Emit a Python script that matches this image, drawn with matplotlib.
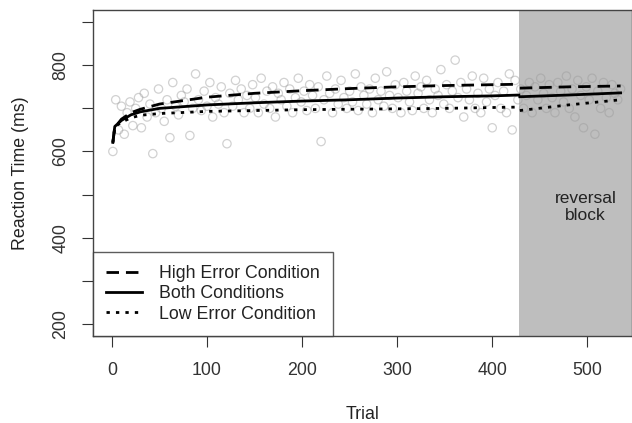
import matplotlib
matplotlib.use("Agg")
import matplotlib.pyplot as plt

plt.rcParams['font.family'] = ['Liberation Sans', 'DejaVu Sans']

trials = list(range(1, 536, 3))
rt_points = [
    600, 720, 650, 705, 640, 690, 715, 660, 700, 725,
    655, 735, 680, 710, 595, 690, 745, 700, 670, 720,
    632, 760, 705, 685, 730, 715, 745, 637, 700, 780,
    720, 695, 740, 705, 760, 680, 725, 710, 750, 690,
    618, 735, 705, 765, 720, 745, 690, 730, 700, 755,
    725, 690, 770, 710, 740, 700, 750, 680, 735, 720,
    760, 705, 745, 690, 725, 770, 715, 740, 695, 755,
    730, 700, 750, 623, 720, 775, 735, 690, 745, 710,
    765, 725, 700, 740, 715, 780, 695, 750, 730, 710,
    745, 690, 770, 720, 740, 705, 785, 730, 700, 755,
    725, 690, 760, 740, 715, 695, 775, 735, 750, 700,
    765, 720, 690, 745, 730, 790, 710, 755, 700, 740,
    812, 725, 760, 680, 745, 720, 775, 700, 735, 690,
    770, 715, 745, 655, 730, 760, 700, 740, 690, 780,
    650, 765, 720, 745, 700, 730, 760, 690, 750, 720,
    770, 735, 700, 755, 725, 690, 760, 740, 715, 775,
    700, 745, 680, 765, 730, 655, 750, 720, 770, 640,
    740, 700, 760, 725, 690, 755, 735, 720, 745,
]

# fitted curves (learning block and reversal block)
fit_trials_learn = [1, 3, 10, 20, 30, 50, 100, 150, 200, 250, 300, 350, 400, 428]
fit_trials_rev = [429, 480, 535]
high_learn = [622, 655, 675, 690, 698, 710, 726, 735, 741, 746, 750, 753, 755, 756]
high_rev = [747, 750, 752]
both_learn = [621, 658, 672, 685, 692, 700, 708, 713, 717, 720, 724, 727, 729, 731]
both_rev = [727, 731, 736]
low_learn = [620, 657, 668, 678, 684, 688, 693, 695, 697, 698, 699, 700, 702, 703]
low_rev = [695, 708, 720]

legend_labels = ["High Error Condition", "Both Conditions", "Low Error Condition"]
reversal_start = 428
reversal_text = "reversal\nblock"

FS = 12.8

fig = plt.figure(figsize=(6.32, 4.23), dpi=100)
ax = fig.add_axes([0.147, 0.206, 0.853, 0.770])

ax.set_xlim(-20, 547)
ax.set_ylim(172, 928)

ax.axvspan(reversal_start, 600, color="#bebebe", lw=0, zorder=0)

ax.scatter(trials, rt_points, s=36, facecolors="none", edgecolors="#9a9a9a",
           linewidths=0.9, alpha=0.45, zorder=2)

kw = dict(color="black", lw=2.0, zorder=3)
l1, = ax.plot(fit_trials_learn, high_learn, dashes=(4.5, 2.5), **kw)
ax.plot(fit_trials_rev, high_rev, dashes=(4.5, 2.5), **kw)
l2, = ax.plot(fit_trials_learn, both_learn, **kw)
ax.plot(fit_trials_rev, both_rev, **kw)
l3, = ax.plot(fit_trials_learn, low_learn, dashes=(1.2, 2.2), **kw)
ax.plot(fit_trials_rev, low_rev, dashes=(1.2, 2.2), **kw)

ax.text(498, 471, reversal_text, ha="center", va="center", fontsize=12.5,
        color="#222222", linespacing=1.15, zorder=4)

ax.set_xticks([0, 100, 200, 300, 400, 500])
ax.set_yticks([200, 300, 400, 500, 600, 700, 800, 900])
ax.set_yticklabels(["200", "", "400", "", "600", "", "800", ""])
ax.tick_params(axis="y", length=8, width=0.8, pad=9, labelsize=FS,
               labelrotation=90, colors="#333333")
ax.tick_params(axis="x", length=8, width=0.8, pad=11, labelsize=FS,
               colors="#333333")
for lab in ax.get_yticklabels():
    lab.set_va("center")

for sp in ax.spines.values():
    sp.set_color("#444444")
    sp.set_linewidth(1.0)

ax.set_xlabel("Trial", fontsize=FS, color="#222222", labelpad=19)
ax.set_ylabel("Reaction Time (ms)", fontsize=FS, color="#222222", labelpad=17)

leg = ax.legend([l1, l2, l3], legend_labels, loc="lower left",
                bbox_to_anchor=(0, 0), borderaxespad=0, fontsize=FS,
                frameon=True, fancybox=False, handlelength=2.0,
                borderpad=0.75, labelspacing=0.18, handletextpad=0.95)
leg.get_frame().set_edgecolor("#333333")
leg.get_frame().set_linewidth(1.0)
for t in leg.get_texts():
    t.set_color("#222222")

fig.savefig("out.png", dpi=100)
